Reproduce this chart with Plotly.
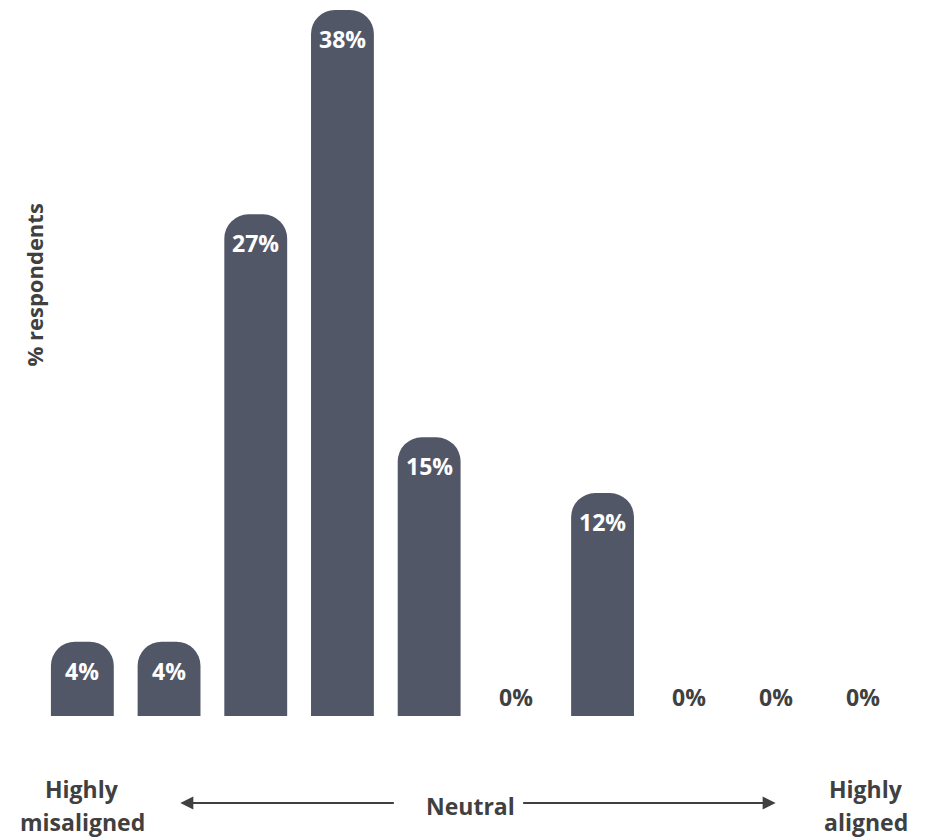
import plotly.graph_objects as go

categories = ["c1", "c2", "c3", "c4", "c5", "c6", "c7", "c8", "c9", "c10"]
values = [4, 4, 27, 38, 15, 0, 12, 0, 0, 0]
labels = [f"{v}%" for v in values]

y_title = "% respondents"
left_lines = ["Highly", "misaligned"]
mid_text = "Neutral"
right_lines = ["Highly", "aligned"]

BAR = "#525768"
DARK = "#404040"
FONT = "Open Sans"
FS = 23

FIG_W, FIG_H = 932, 839
PL, PR, PT, PB = 38.5, 906.5, 10, 716  # plot area in window pixels

fig = go.Figure()
fig.add_trace(go.Bar(
    x=categories, y=values,
    marker=dict(color=BAR, cornerradius=24, line=dict(width=0)),
    hoverinfo="skip",
))

annotations = []
for c, v, t in zip(categories, values, labels):
    if v > 0:
        annotations.append(dict(x=c, y=v, xref="x", yref="y", text=f"<b>{t}</b>",
                                showarrow=False, yanchor="top", yshift=-11,
                                font=dict(family=FONT, size=FS, color="white")))
    else:
        annotations.append(dict(x=c, y=0, xref="x", yref="y", text=f"<b>{t}</b>",
                                showarrow=False, yanchor="bottom", yshift=1,
                                font=dict(family=FONT, size=FS, color=DARK)))

def px(xpix):
    return (xpix - PL) / (PR - PL)
def py(ypix):
    return (PB - ypix) / (PB - PT)

def txt(xp, yp, s, angle=0, size=FS):
    return dict(x=px(xp), y=py(yp), xref="paper", yref="paper", text=f"<b>{s}</b>",
                showarrow=False, textangle=angle, xanchor="center", yanchor="middle",
                font=dict(family=FONT, size=size, color=DARK))

annotations += [
    txt(33, 285, y_title, -90, 22),
    txt(82, 789, left_lines[0]),
    txt(82, 822, left_lines[1]),
    txt(470, 806, mid_text),
    txt(866, 789, right_lines[0]),
    txt(866, 822, right_lines[1]),
    dict(x=px(180), y=py(803), xref="paper", yref="paper", text="",
         showarrow=True, ax=215, ay=0, axref="pixel", ayref="pixel",
         arrowhead=2, arrowsize=1.3, arrowwidth=2, arrowcolor=DARK),
    dict(x=px(776), y=py(803), xref="paper", yref="paper", text="",
         showarrow=True, ax=-254, ay=0, axref="pixel", ayref="pixel",
         arrowhead=2, arrowsize=1.3, arrowwidth=2, arrowcolor=DARK),
]

fig.update_layout(
    width=FIG_W, height=FIG_H,
    margin=dict(l=PL, r=FIG_W - PR, t=PT, b=FIG_H - PB, autoexpand=False),
    paper_bgcolor="white", plot_bgcolor="white",
    bargap=0.275,
    showlegend=False,
    xaxis=dict(type="category", showticklabels=False, showgrid=False, zeroline=False,
               showline=False, ticks=""),
    yaxis=dict(range=[0, 38], showticklabels=False, showgrid=False, zeroline=False,
               showline=False, ticks=""),
    annotations=annotations,
)

fig.write_html(
    "out.html",
    config={"displayModeBar": False},
    post_script="document.body.style.margin='0px';document.body.style.overflow='hidden';",
)
